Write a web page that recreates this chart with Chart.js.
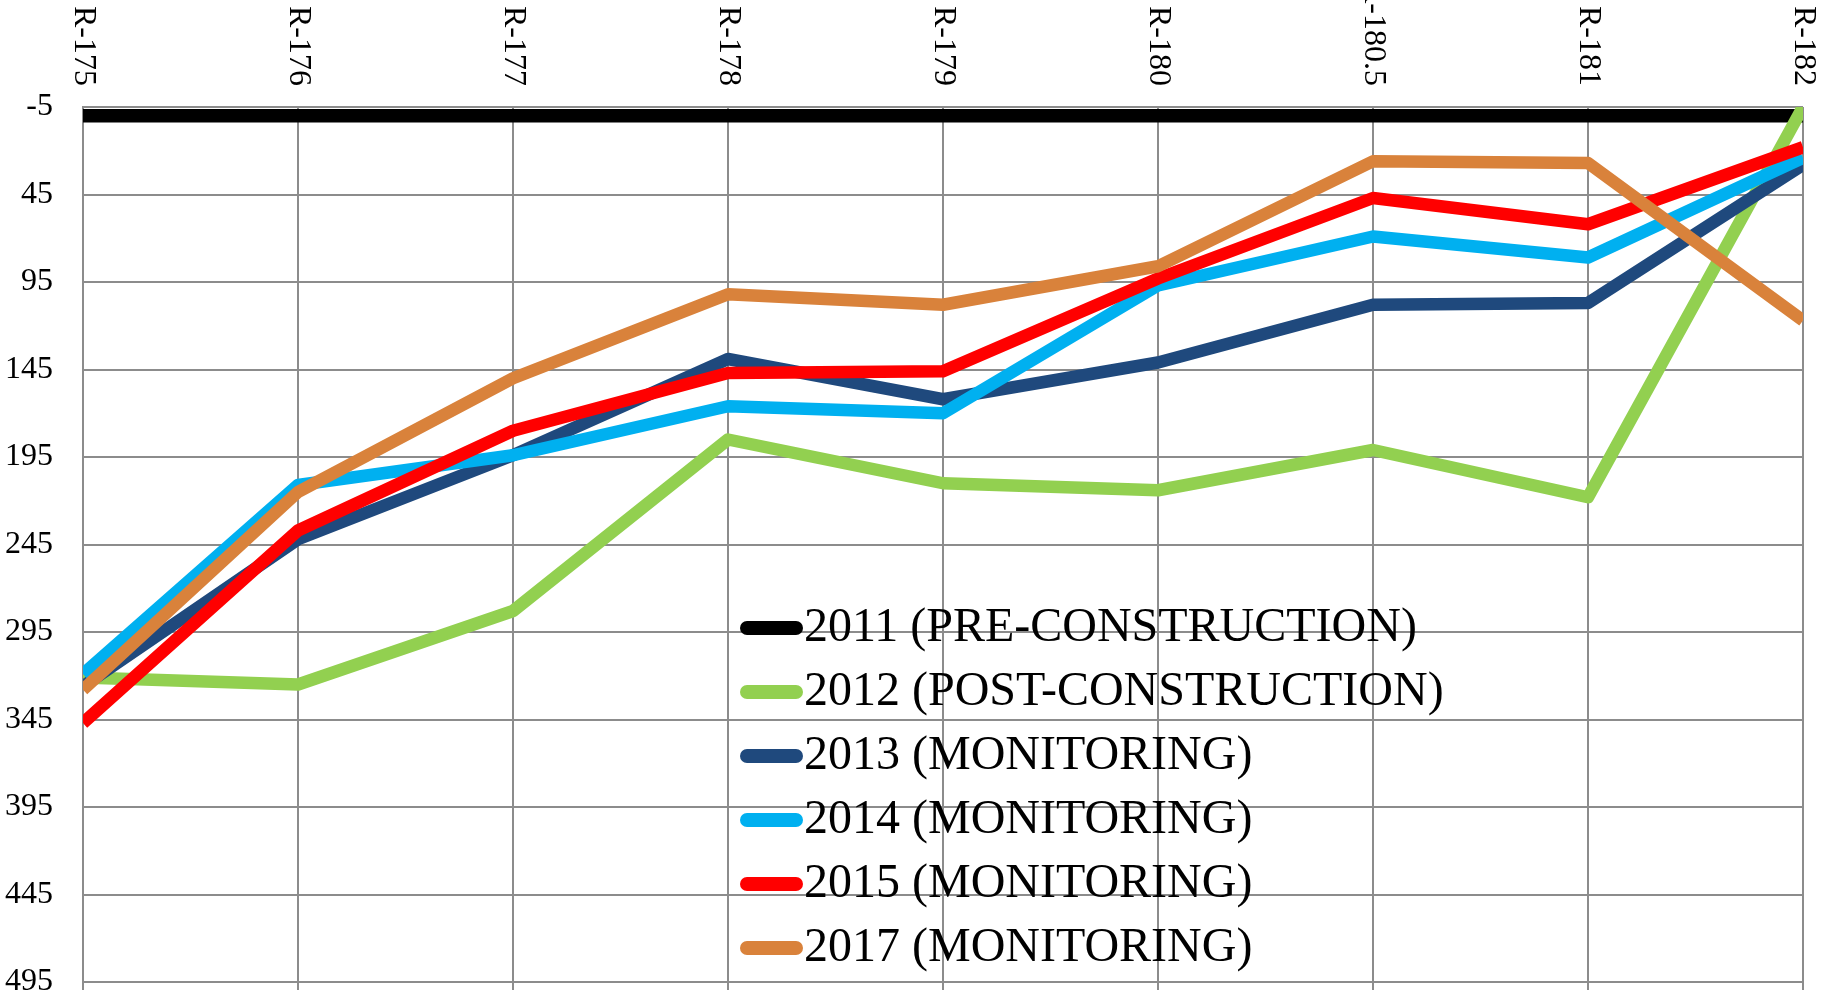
<!DOCTYPE html>
<html><head><meta charset="utf-8">
<script src="https://cdn.jsdelivr.net/npm/chart.js@4/dist/chart.umd.min.js"></script>
<style>html,body{margin:0;padding:0;background:#fff;}canvas{display:block;}</style>
</head><body>
<canvas id="c" width="1826" height="1008"></canvas>
<script>
const categories = ['R-175','R-176','R-177','R-178','R-179','R-180','R-180.5','R-181','R-182'];
const seriesNames = ['2011 (PRE-CONSTRUCTION)','2012 (POST-CONSTRUCTION)','2013 (MONITORING)','2014 (MONITORING)','2015 (MONITORING)','2017 (MONITORING)'];
const v2011 = [0, 0, 0, 0, 0, 0, 0, 0, 0];
const v2012 = [321, 325, 283, 185, 210, 214, 191, 218, -5];
const v2013 = [326, 242, 194, 139, 162, 141, 108, 107, 28];
const v2014 = [319, 211, 194, 166, 170, 97, 69, 81, 24];
const v2015 = [347, 237, 180, 147, 146, 93, 47, 62, 18];
const v2017 = [328, 215, 150, 102, 108, 86, 26, 27, 117];
const yMin = -5, yMax = 495, yStep = 50;
const seriesValues = [v2011, v2012, v2013, v2014, v2015, v2017];
const seriesColors = ['#000000', '#92D050', '#1F497D', '#00B0F0', '#FF0000', '#D9823B'];
const seriesWidths = [13.5, 12.5, 12.5, 12.5, 12.5, 12.5];

const FONT = '"Liberation Serif", "Times New Roman", serif';
const GRID = '#8c8c8c';

const topLabelsPlugin = {
  id: 'topLabels',
  afterDraw(chart, args, opts) {
    const xs = chart.scales.x, ctx = chart.ctx;
    ctx.save();
    ctx.font = opts.size + 'px ' + FONT;
    ctx.fillStyle = '#000';
    ctx.textAlign = 'right';
    ctx.textBaseline = 'middle';
    xs.ticks.forEach((t, i) => {
      const x = xs.getPixelForTick(i);
      ctx.save();
      ctx.translate(x, chart.chartArea.top - opts.gap);
      ctx.rotate(Math.PI / 2);
      ctx.fillText(xs.getLabelForValue(t.value), 0, 0);
      ctx.restore();
    });
    ctx.restore();
  }
};

const insideLegendPlugin = {
  id: 'insideLegend',
  afterDraw(chart, args, opts) {
    const ctx = chart.ctx;
    ctx.save();
    ctx.font = opts.size + 'px ' + FONT;
    ctx.textAlign = 'left';
    ctx.textBaseline = 'middle';
    const r = opts.thickness / 2;
    chart.data.datasets.forEach((ds, i) => {
      const y = opts.top + i * opts.rowHeight;
      ctx.beginPath();
      ctx.lineCap = 'round';
      ctx.lineWidth = opts.thickness;
      ctx.strokeStyle = ds.borderColor;
      ctx.moveTo(opts.left + r, y);
      ctx.lineTo(opts.left + opts.sampleWidth - r, y);
      ctx.stroke();
      ctx.fillStyle = '#000';
      ctx.fillText(ds.label, opts.left + opts.sampleWidth + opts.gap, y);
    });
    ctx.restore();
  }
};

const datasets = seriesNames.map((name, i) => ({
  label: name,
  data: seriesValues[i],
  borderColor: seriesColors[i],
  backgroundColor: seriesColors[i],
  borderWidth: seriesWidths[i],
  pointRadius: 0,
  pointHoverRadius: 0,
  tension: 0,
  borderJoinStyle: 'round',
  borderCapStyle: 'butt',
  clip: 0,
  order: seriesNames.length - i
}));

new Chart(document.getElementById('c'), {
  type: 'line',
  data: { labels: categories, datasets },
  plugins: [topLabelsPlugin, insideLegendPlugin],
  options: {
    responsive: false,
    devicePixelRatio: 1,
    animation: false,
    events: [],
    layout: { padding: { top: 107, right: 23, bottom: 18, left: 5 } },
    plugins: {
      legend: { display: false },
      tooltip: { enabled: false },
      topLabels: { size: 32, gap: 21 },
      insideLegend: { left: 740, top: 628, rowHeight: 64, sampleWidth: 63, thickness: 14, gap: 1, size: 48 }
    },
    scales: {
      x: {
        type: 'category',
        position: 'bottom',
        offset: false,
        ticks: { display: false },
        grid: { color: GRID, lineWidth: 2, drawTicks: true, tickLength: 8, offset: false },
        border: { color: GRID, width: 2 }
      },
      y: {
        reverse: true,
        min: yMin,
        max: yMax,
        ticks: { stepSize: yStep, color: '#000', font: { family: FONT, size: 32 }, padding: 30 },
        grid: { color: GRID, lineWidth: 2, drawTicks: false },
        border: { color: GRID, width: 2 },
        afterFit(scale) {
          scale.width -= scale.options.ticks.padding;
          scale.paddingTop = 0;
          scale.paddingBottom = 0;
        }
      }
    }
  }
});
</script>
</body></html>
